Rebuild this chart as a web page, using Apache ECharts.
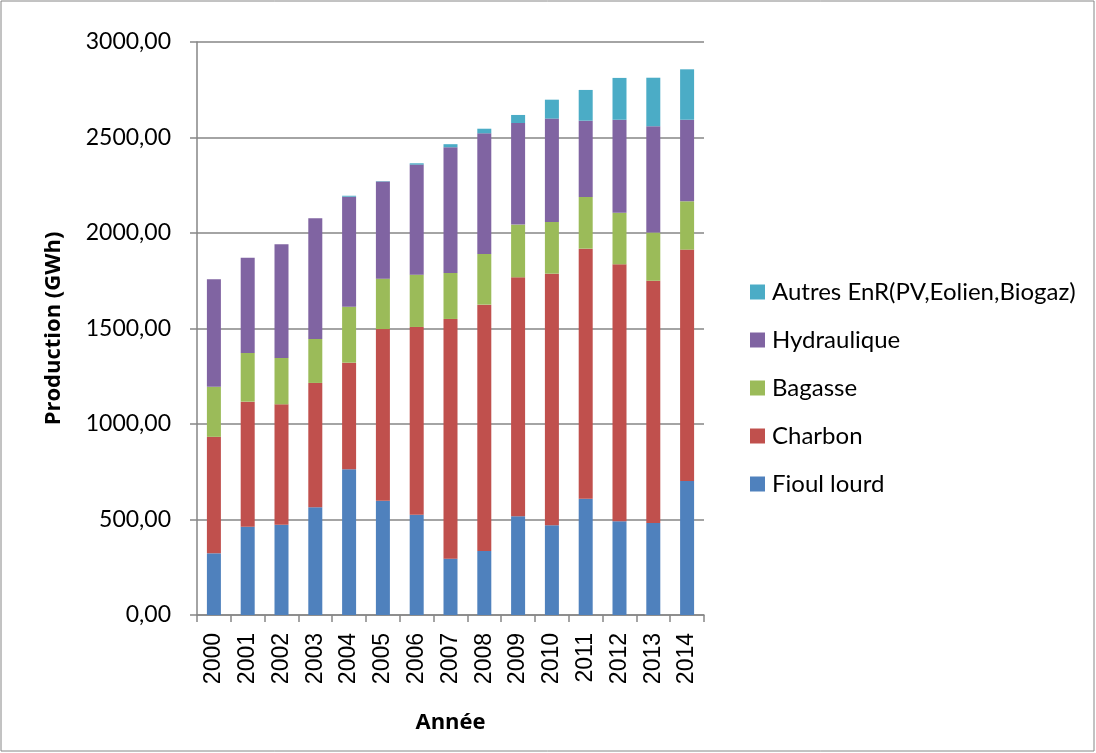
<!DOCTYPE html>
<html>
<head>
<meta charset="utf-8">
<script src="https://cdn.jsdelivr.net/npm/echarts@6/dist/echarts.min.js"></script>
<style>
  html, body { margin: 0; padding: 0; background: #fff; }
  #chart { width: 1096px; height: 753px; }
</style>
</head>
<body>
<div id="chart"></div>
<script>
// années
var years = ['2000', '2001', '2002', '2003', '2004', '2005', '2006', '2007',
    '2008', '2009', '2010', '2011', '2012', '2013', '2014'];

// production par filière (GWh)
var fioulLourd = [323, 462, 473, 564, 763, 598, 525, 295, 335, 517, 470, 609, 491, 482, 702];
var charbon = [610, 655, 630, 651, 558, 899, 983, 1255, 1290, 1251, 1317, 1309, 1345, 1268, 1211];
var bagasse = [262, 255, 243, 230, 293, 264, 274, 241, 265, 276, 271, 271, 270, 252, 253];
var hydraulique = [563, 499, 595, 632, 576, 508, 576, 658, 632, 532, 541, 399, 487, 557, 427];
var autresEnR = [0, 0, 0, 0, 5, 2, 7, 16, 24, 42, 99, 161, 219, 254, 264];

var seriesNames = ['Fioul lourd', 'Charbon', 'Bagasse', 'Hydraulique', 'Autres EnR(PV,Eolien,Biogaz)'];
var seriesColors = ['#4F81BD', '#C0504D', '#9BBB59', '#8064A2', '#4BACC6'];
var seriesData = [fioulLourd, charbon, bagasse, hydraulique, autresEnR];

var FONT = 'Lato, "Open Sans", sans-serif';
var BOLD_FONT = '"Open Sans", Lato, sans-serif';

var series = seriesNames.map(function (name, i) {
    return {
        name: name,
        type: 'bar',
        stack: 'total',
        barWidth: 14,
        itemStyle: { color: seriesColors[i] },
        data: seriesData[i]
    };
});

var chart = echarts.init(document.getElementById('chart'));
chart.setOption({
    animation: false,
    textStyle: { fontFamily: FONT },
    graphic: [{
        type: 'rect',
        shape: { x: 1, y: 1, width: 1093, height: 750 },
        style: { fill: 'none', stroke: '#868686', lineWidth: 1 },
        silent: true
    }],
    legend: {
        orient: 'vertical',
        left: 745,
        top: 275,
        itemWidth: 15,
        itemHeight: 15,
        itemGap: 24,
        icon: 'rect',
        data: seriesNames.slice().reverse(),
        textStyle: { fontFamily: FONT, fontSize: 24, lineHeight: 24, color: '#000', padding: [0, 0, 0, 2] }
    },
    grid: {
        left: 197,
        right: 392,
        top: 42,
        bottom: 138
    },
    xAxis: {
        type: 'category',
        data: years,
        name: 'Année',
        nameLocation: 'middle',
        nameGap: 97,
        nameTextStyle: { fontFamily: BOLD_FONT, fontSize: 22, fontWeight: 'bold', color: '#000' },
        axisLine: { lineStyle: { color: '#868686', width: 1.5 } },
        axisTick: { show: true, length: 7, lineStyle: { color: '#868686', width: 1.5 } },
        axisLabel: { rotate: 90, fontSize: 23, color: '#000', margin: 18, fontFamily: '"Liberation Sans", Arial, sans-serif' }
    },
    yAxis: {
        type: 'value',
        min: 0,
        max: 3000,
        interval: 500,
        name: 'Production (GWh)',
        nameLocation: 'middle',
        nameGap: 132,
        nameTextStyle: { fontFamily: BOLD_FONT, fontSize: 22, fontWeight: 'bold', color: '#000' },
        axisLine: { show: true, lineStyle: { color: '#868686', width: 1.5 } },
        axisTick: { show: true, length: 7, lineStyle: { color: '#868686', width: 1.5 } },
        splitLine: { lineStyle: { color: '#868686', width: 1.5 } },
        axisLabel: {
            fontSize: 23,
            color: '#000',
            margin: 26,
            fontFamily: FONT,
            formatter: function (v) { return v.toFixed(2).replace('.', ','); }
        }
    },
    series: series
});
</script>
</body>
</html>
